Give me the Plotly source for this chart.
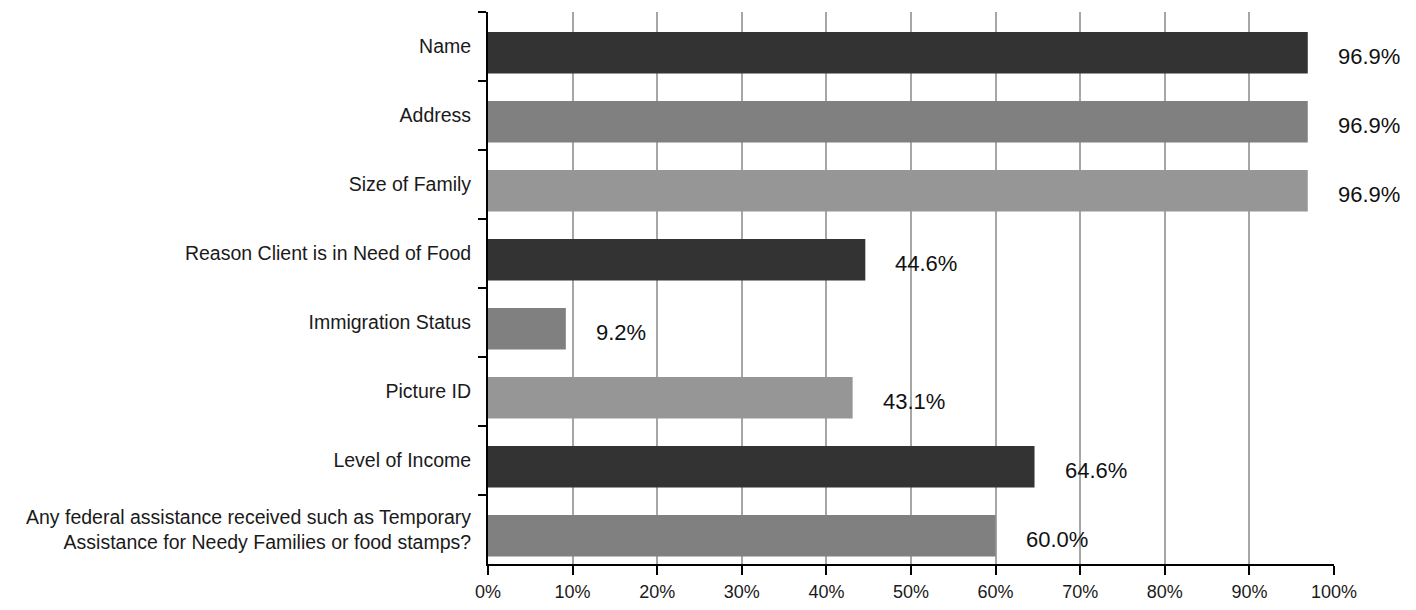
import plotly.graph_objects as go

# Data: what information pantries ask clients for (share of pantries)
items = ['Name', 'Address', 'Size of Family', 'Reason Client is in Need of Food',
         'Immigration Status', 'Picture ID', 'Level of Income',
         'Any federal assistance received such as Temporary<br>Assistance for Needy Families or food stamps?']
shares = [96.9, 96.9, 96.9, 44.6, 9.2, 43.1, 64.6, 60.0]
bar_colors = ['#333333', '#808080', '#969696', '#333333', '#808080', '#969696', '#333333', '#808080']
tick_vals = [0, 10, 20, 30, 40, 50, 60, 70, 80, 90, 100]
tick_text = [f'{v}%' for v in tick_vals]

font_name = 'Liberation Sans Narrow, Arial Narrow, Liberation Sans, Arial, sans-serif'

fig = go.Figure(go.Bar(
    x=shares, y=items, orientation='h',
    marker=dict(color=bar_colors, line=dict(width=0)),
    width=0.6, offset=-0.21,
    hoverinfo='x+y',
))

# value labels sit to the right of each bar, a little below its middle
for item, val in zip(items, shares):
    fig.add_annotation(x=val, y=item, text=f'{val:.1f}%', showarrow=False,
                       xanchor='left', xshift=28, yshift=-10,
                       font=dict(family=font_name, size=22, color='#111111'))

# page body adds 8px around the figure, so the figure is sized to fit inside
fig.update_layout(
    width=1400, height=594,
    margin=dict(l=480, r=74, t=4, b=38),
    plot_bgcolor='white', paper_bgcolor='white',
    showlegend=False,
    font=dict(family=font_name, size=19.5, color='#1a1a1a'),
)
fig.update_xaxes(
    range=[0, 100], tickvals=tick_vals, ticktext=tick_text,
    showgrid=True, gridcolor='#a6a6a6', gridwidth=1.5,
    showline=True, linecolor='black', linewidth=2,
    ticks='outside', ticklen=9, tickwidth=2, tickcolor='black',
    tickfont=dict(size=18), ticklabelstandoff=1,
    zeroline=False, fixedrange=True, automargin=False,
)
fig.update_yaxes(
    autorange='reversed',
    showline=True, linecolor='black', linewidth=2,
    ticks='outside', tickson='boundaries', ticklen=8, tickwidth=2, tickcolor='black',
    ticklabelstandoff=11, showgrid=False, fixedrange=True, automargin=False,
)

fig.write_html('out.html')
